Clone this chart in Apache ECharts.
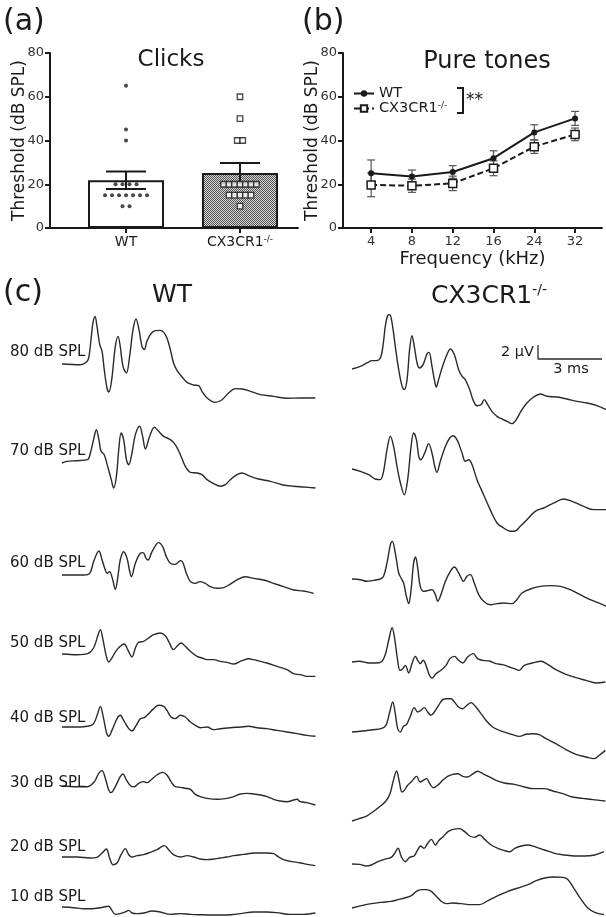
<!DOCTYPE html>
<html>
<head>
<meta charset="utf-8">
<script src="https://cdn.jsdelivr.net/npm/echarts@6/dist/echarts.min.js"></script>
<style>
html, body { margin: 0; padding: 0; background: #fff; }
#main { width: 606px; height: 917px; }
</style>
</head>
<body>
<div id="main"></div>
<script>
/******** (a) click thresholds ********/
var clickGroups = ['WT', 'CX3CR1'];
var clickMean = [21.8, 25.1];
var clickSem = [4.0, 4.6];
var clickWT = [65, 45, 40, 20, 20, 20, 20, 15, 15, 15, 15, 15, 15, 15, 10, 10];
var clickCX = [60, 50, 40, 40, 20, 20, 20, 20, 20, 20, 20, 15, 15, 15, 15, 15, 10];

/******** (b) pure tone thresholds ********/
var freqLabels = ['4', '8', '12', '16', '24', '32'];
var toneWT = [25.0, 23.5, 25.6, 31.9, 43.7, 50.1];
var toneWTErr = [6.1, 3.0, 2.9, 3.4, 3.5, 3.2];
var toneCX = [19.7, 19.3, 20.4, 27.3, 37.2, 42.8];
var toneCXErr = [5.4, 3.0, 3.3, 3.4, 3.1, 2.9];

/******** (c) ABR waveforms, [ms, µV] ********/
var levelNames = ['80 dB SPL', '70 dB SPL', '60 dB SPL', '50 dB SPL', '40 dB SPL', '30 dB SPL', '20 dB SPL', '10 dB SPL'];
var wt80 = [[0,0],[0.86,-0.1],[1.14,0.24],[1.25,0.86],[1.36,3.48],[1.45,5.86],[1.55,6.81],[1.64,5.38],[1.77,2.76],[1.88,1.81],[1.98,-0.81],[2.11,-3.43],[2.2,-4.0],[2.33,-2.24],[2.5,2.52],[2.63,3.95],[2.73,2.52],[2.86,-0.33],[3.02,-1.29],[3.17,1.1],[3.33,4.9],[3.47,6.43],[3.61,4.9],[3.75,2.52],[3.86,2.05],[3.98,3.24],[4.17,4.33],[4.38,4.76],[4.61,4.81],[4.77,4.52],[4.92,3.71],[5.08,2.05],[5.23,0.14],[5.39,-0.9],[5.63,-1.86],[5.86,-2.62],[6.17,-3.0],[6.41,-3.1],[6.56,-3.9],[6.8,-4.86],[7.19,-5.48],[7.5,-5.1],[7.81,-4.14],[8.13,-3.52],[8.44,-3.57],[8.83,-3.9],[9.3,-4.38],[9.92,-4.62],[10.55,-4.9],[11.17,-4.86],[11.88,-4.86]];
var wt70 = [[0,0],[0.23,0.24],[0.7,0.33],[1.2,0.48],[1.33,1.43],[1.48,3.33],[1.61,4.76],[1.73,3.33],[1.83,1.67],[1.98,1.19],[2.14,-0.48],[2.31,-2.38],[2.42,-3.57],[2.55,-1.9],[2.66,1.9],[2.77,4.29],[2.89,3.33],[3.02,0.48],[3.13,-0.24],[3.28,1.43],[3.44,4.05],[3.64,5.24],[3.78,3.81],[3.91,2.0],[4.11,3.81],[4.33,5.1],[4.53,4.52],[4.77,3.81],[5.08,3.33],[5.31,2.62],[5.55,1.19],[5.78,-0.48],[6.02,-1.33],[6.33,-1.43],[6.56,-1.67],[6.8,-2.38],[7.11,-2.95],[7.42,-3.33],[7.66,-3.1],[7.89,-2.38],[8.2,-1.67],[8.44,-1.43],[8.75,-1.81],[9.22,-2.29],[9.77,-2.62],[10.31,-3.1],[10.86,-3.33],[11.33,-3.43],[11.88,-3.57]];
var wt60 = [[0,0],[0.55,0],[1.02,0],[1.3,0.24],[1.48,1.9],[1.64,3.1],[1.73,3.43],[1.88,2.14],[2.03,0.71],[2.11,0.24],[2.23,0.48],[2.38,-0.71],[2.5,-2.05],[2.61,-0.48],[2.73,2.14],[2.89,3.33],[3.05,2.38],[3.16,0.71],[3.25,-0.24],[3.44,1.67],[3.67,3.1],[3.8,3.19],[3.94,2.38],[4.03,2.14],[4.22,3.33],[4.42,4.38],[4.53,4.62],[4.72,4.05],[4.89,2.62],[5.08,1.67],[5.31,1.52],[5.55,2.05],[5.67,1.76],[5.83,0.24],[6.02,-0.95],[6.25,-1.19],[6.48,-0.95],[6.72,-1.19],[6.95,-1.67],[7.27,-1.9],[7.58,-1.81],[7.89,-1.29],[8.2,-0.71],[8.59,-0.24],[8.98,-0.48],[9.45,-0.71],[9.92,-1.19],[10.39,-1.67],[10.86,-2.14],[11.33,-2.29],[11.8,-2.62]];
var wt50 = [[0,0],[0.7,-0.1],[1.2,0.05],[1.48,0.86],[1.67,2.52],[1.8,3.48],[1.92,2.05],[2.08,-0.33],[2.19,-1.14],[2.34,-0.57],[2.58,0.62],[2.92,1.43],[3.08,0.62],[3.28,-0.43],[3.44,0.86],[3.59,1.67],[3.83,1.81],[4.06,2.29],[4.3,2.76],[4.61,3.0],[4.84,2.62],[5.0,1.81],[5.23,0.62],[5.39,1.1],[5.58,1.57],[5.78,1.1],[6.02,0.38],[6.33,-0.33],[6.56,-0.57],[6.8,-0.81],[7.11,-0.81],[7.42,-1.05],[7.73,-1.19],[8.05,-1.43],[8.36,-1.05],[8.75,-0.67],[8.98,-0.81],[9.3,-1.05],[9.61,-1.29],[10.08,-1.76],[10.55,-2.24],[10.86,-2.81],[11.17,-2.95],[11.48,-3.19],[11.88,-3.19]];
var wt40 = [[0,0],[0.7,0],[1.2,0.1],[1.48,0.48],[1.67,1.9],[1.8,2.95],[1.92,1.67],[2.08,-0.71],[2.19,-1.33],[2.34,-0.48],[2.58,1.19],[2.73,1.67],[2.89,0.95],[3.13,-0.24],[3.28,-0.57],[3.48,0.24],[3.67,1.19],[3.86,1.33],[4.06,1.9],[4.3,2.62],[4.53,3.1],[4.77,2.95],[4.92,2.38],[5.11,1.43],[5.31,1.19],[5.55,1.67],[5.78,1.43],[6.02,0.71],[6.25,0.24],[6.48,-0.1],[6.8,0],[7.11,-0.38],[7.42,-0.24],[7.89,-0.1],[8.36,0],[8.75,0.1],[9.14,-0.1],[9.61,-0.24],[10.08,-0.48],[10.55,-0.71],[11.02,-0.95],[11.48,-1.19],[11.88,-1.33]];
var wt30 = [[0,0],[0.7,-0.1],[1.2,-0.1],[1.52,0.62],[1.72,1.81],[1.88,2.19],[2.03,1.1],[2.19,-0.57],[2.3,-0.95],[2.5,-0.1],[2.73,1.33],[2.86,1.71],[3.02,0.86],[3.23,0],[3.39,-0.1],[3.59,0.38],[3.8,0.62],[3.98,0.48],[4.17,0.86],[4.45,1.57],[4.73,1.95],[4.92,1.57],[5.11,0.62],[5.31,-0.1],[5.55,-0.19],[5.78,-0.33],[6.02,-0.48],[6.25,-1.19],[6.48,-1.52],[6.8,-1.76],[7.27,-1.9],[7.73,-1.76],[8.05,-1.52],[8.36,-1.14],[8.67,-1.05],[8.98,-1.14],[9.3,-1.29],[9.61,-1.52],[9.92,-1.9],[10.23,-2.14],[10.55,-2.24],[10.86,-2.0],[11.02,-1.9],[11.17,-2.24],[11.48,-2.38],[11.88,-2.71]];
var wt20 = [[0,0],[0.7,0],[1.33,-0.14],[1.64,-0.05],[1.88,0.57],[2.08,1.14],[2.23,-0.14],[2.39,-1.1],[2.58,-0.86],[2.77,0.33],[2.97,1.19],[3.13,0.33],[3.28,0],[3.52,0.19],[3.83,0.33],[4.14,0.67],[4.45,1.05],[4.8,1.62],[5.0,1.05],[5.23,0.33],[5.55,0],[5.86,0.19],[6.17,0],[6.48,-0.29],[6.8,-0.38],[7.11,-0.29],[7.42,-0.14],[7.73,0],[8.05,0.19],[8.36,0.33],[8.67,0.43],[8.98,0.57],[9.3,0.57],[9.61,0.57],[9.92,0.48],[10.16,0],[10.39,-0.38],[10.7,-0.62],[11.02,-0.76],[11.33,-0.95],[11.88,-1.24]];
var wt10 = [[0,0],[0.55,-0.1],[1.02,-0.24],[1.41,-0.24],[1.8,-0.1],[2.19,0.1],[2.34,-0.48],[2.5,-1.05],[2.73,-0.95],[2.97,-0.71],[3.13,-0.48],[3.28,-0.86],[3.52,-0.95],[3.83,-0.86],[4.22,-0.57],[4.61,-0.71],[5.08,-1.05],[5.55,-0.95],[6.02,-1.05],[6.48,-1.1],[7.11,-1.14],[7.73,-1.14],[8.36,-0.95],[8.98,-0.71],[9.61,-0.71],[10.08,-0.81],[10.7,-1.05],[11.33,-1.05],[11.88,-0.86]];
var cx80 = [[0,0],[0.39,0.38],[0.7,0.86],[0.94,1.19],[1.14,1.19],[1.33,1.57],[1.45,3.24],[1.56,6.1],[1.67,7.62],[1.77,7.76],[1.88,6.57],[2.03,3.24],[2.19,-0.1],[2.34,-2.38],[2.45,-2.95],[2.58,-1.52],[2.7,2.76],[2.81,4.76],[2.92,3.24],[3.05,0.86],[3.17,0.14],[3.33,0.62],[3.52,2.19],[3.61,2.38],[3.75,0.38],[3.86,-1.52],[3.95,-2.57],[4.06,-1.52],[4.22,0.14],[4.42,1.81],[4.61,2.86],[4.8,2.05],[5.0,-0.1],[5.16,-1.05],[5.31,-1.52],[5.52,-2.95],[5.67,-4.38],[5.86,-5.24],[6.05,-5.1],[6.2,-4.38],[6.36,-5.1],[6.56,-6.05],[6.8,-6.76],[7.03,-7.14],[7.27,-7.48],[7.5,-7.81],[7.7,-7.24],[7.92,-6.05],[8.2,-4.86],[8.52,-4.0],[8.83,-3.57],[9.14,-3.9],[9.61,-4.0],[10.08,-4.29],[10.55,-4.62],[11.02,-4.86],[11.48,-5.24],[11.92,-5.81]];
var cx70 = [[0,0],[0.39,-0.33],[0.78,-0.81],[1.09,-1.43],[1.33,-1.52],[1.48,-0.33],[1.64,2.76],[1.8,4.67],[1.95,3.24],[2.11,0.38],[2.27,-2.0],[2.45,-3.67],[2.61,-1.52],[2.77,3.24],[2.89,5.14],[3.02,4.19],[3.13,1.81],[3.23,1.33],[3.44,2.52],[3.59,3.62],[3.75,2.29],[3.88,0.38],[3.98,-0.48],[4.14,1.1],[4.38,3.24],[4.58,4.43],[4.73,4.76],[4.92,4.19],[5.16,2.29],[5.31,1.1],[5.47,1.33],[5.63,0.62],[5.86,-1.52],[6.17,-3.67],[6.48,-5.81],[6.8,-7.71],[7.11,-8.43],[7.42,-8.9],[7.61,-8.9],[7.89,-8.19],[8.2,-7.24],[8.59,-6.05],[8.98,-5.57],[9.45,-4.86],[9.92,-4.29],[10.31,-4.62],[10.86,-5.33],[11.33,-5.81],[11.92,-5.81]];
var cx60 = [[0,0],[0.39,-0.1],[0.7,-0.33],[1.02,-0.19],[1.33,0],[1.48,0.38],[1.64,2.29],[1.8,4.9],[1.89,5.38],[2.03,3.71],[2.19,0.86],[2.3,0.14],[2.42,-0.57],[2.55,-2.48],[2.66,-3.52],[2.77,-1.52],[2.89,2.29],[2.98,3.14],[3.09,1.33],[3.2,-1.05],[3.36,-1.76],[3.59,-1.62],[3.75,-1.52],[3.91,-2.24],[4.02,-3.19],[4.14,-2.48],[4.38,-0.33],[4.61,1.1],[4.8,1.71],[5.0,0.86],[5.23,-0.33],[5.39,0.38],[5.55,0.62],[5.73,-0.57],[5.94,-2.24],[6.17,-3.19],[6.48,-3.67],[6.8,-3.52],[7.11,-3.43],[7.5,-3.52],[7.73,-2.95],[7.97,-2.0],[8.36,-1.43],[8.83,-1.05],[9.3,-0.95],[9.77,-1.05],[10.23,-1.52],[10.7,-2.24],[11.17,-2.95],[11.64,-3.52],[11.92,-3.9]];
var cx50 = [[0,0],[0.34,0.1],[0.81,-0.14],[1.28,-0.1],[1.52,0.71],[1.72,3.1],[1.88,4.9],[2.0,3.33],[2.14,0.24],[2.25,-1.19],[2.38,-0.95],[2.5,-0.48],[2.66,-1.57],[2.81,-0.24],[2.97,0.81],[3.08,0.24],[3.2,-0.24],[3.34,0.24],[3.47,-0.48],[3.63,-1.9],[3.75,-2.29],[3.94,-1.67],[4.17,-1.19],[4.41,-0.48],[4.59,0.48],[4.8,0.81],[5.0,0.24],[5.19,-0.14],[5.42,0.71],[5.69,1.19],[5.89,0.48],[6.13,0.24],[6.44,0.14],[6.75,-0.24],[7.06,-0.38],[7.38,-0.71],[7.61,-0.95],[7.84,-1.19],[8.08,-0.48],[8.47,-0.14],[8.86,0.1],[9.17,-0.33],[9.56,-1.1],[10.03,-1.76],[10.5,-2.24],[10.97,-2.62],[11.44,-3.0],[11.88,-2.86]];
var cx40 = [[0,0],[0.5,0.14],[0.97,0.33],[1.36,0.48],[1.59,0.95],[1.75,2.62],[1.91,4.29],[2.03,2.62],[2.14,0.48],[2.27,0],[2.41,0.81],[2.56,1.1],[2.72,2.14],[2.92,3.48],[3.08,2.86],[3.23,3.1],[3.39,3.48],[3.55,2.86],[3.7,2.38],[3.86,2.86],[4.06,3.81],[4.25,4.62],[4.44,4.76],[4.64,4.76],[4.8,4.29],[5.0,3.57],[5.19,3.33],[5.38,3.81],[5.58,4.19],[5.81,3.57],[6.05,2.62],[6.28,1.67],[6.59,0.71],[6.91,0.24],[7.22,-0.1],[7.53,-0.38],[7.84,-0.62],[8.16,-0.33],[8.47,-0.24],[8.78,-0.38],[9.09,-0.95],[9.56,-1.67],[10.03,-2.52],[10.5,-3.19],[10.97,-3.57],[11.36,-3.81],[11.59,-3.33],[11.88,-2.62]];
var cx30 = [[0,0],[0.34,0.33],[0.66,0.67],[0.97,1.29],[1.28,2.0],[1.59,2.86],[1.78,3.9],[1.94,5.81],[2.09,7.14],[2.22,5.57],[2.34,4.14],[2.45,4.38],[2.61,5.1],[2.77,5.57],[3.03,6.38],[3.19,5.57],[3.34,5.81],[3.5,6.05],[3.63,5.43],[3.81,4.76],[4.02,5.1],[4.25,5.81],[4.48,6.38],[4.72,6.67],[4.95,6.76],[5.19,6.38],[5.42,6.29],[5.63,6.67],[5.89,7.1],[6.13,6.76],[6.44,6.29],[6.75,5.81],[7.14,5.43],[7.61,5.24],[8.08,4.86],[8.55,4.62],[9.02,4.62],[9.41,4.29],[9.88,3.9],[10.34,3.43],[10.81,3.24],[11.28,3.05],[11.88,2.86]];
var cx20 = [[0,0],[0.36,-0.05],[0.67,-0.29],[0.91,-0.14],[1.22,0.33],[1.53,0.67],[1.84,0.95],[2.0,1.52],[2.16,2.24],[2.31,1.05],[2.5,0.33],[2.7,0.95],[2.91,1.14],[3.06,1.9],[3.22,2.57],[3.38,2.24],[3.53,2.86],[3.72,3.52],[3.91,2.71],[4.06,3.33],[4.27,3.9],[4.5,4.62],[4.73,4.95],[5.05,5.05],[5.28,4.62],[5.52,4.0],[5.75,3.81],[5.98,4.14],[6.22,3.52],[6.53,2.71],[6.84,2.24],[7.16,1.9],[7.39,1.76],[7.63,2.24],[7.94,2.57],[8.25,2.71],[8.56,2.48],[9.03,2.0],[9.5,1.52],[9.97,1.29],[10.44,1.14],[10.91,1.14],[11.38,1.29],[11.81,1.76]];
var cx10 = [[0,0],[0.44,0.33],[0.91,0.62],[1.38,0.81],[1.84,0.95],[2.16,1.19],[2.47,1.43],[2.78,1.76],[3.02,2.38],[3.25,2.62],[3.48,2.62],[3.72,2.38],[3.95,1.67],[4.19,0.95],[4.42,0.62],[4.73,0.71],[5.13,0.62],[5.59,0.48],[5.98,0.48],[6.38,1.05],[6.84,1.76],[7.31,2.38],[7.78,2.86],[8.25,3.33],[8.64,3.9],[9.03,4.29],[9.5,4.43],[9.89,4.38],[10.13,4.05],[10.44,2.62],[10.75,1.19],[11.06,0],[11.38,-0.62],[11.81,-0.95]];
var scaleBar = [[0, 2], [0, 0], [3, 0]]; // 2 µV, 3 ms

var wtTraces = [wt80, wt70, wt60, wt50, wt40, wt30, wt20, wt10];
var cxTraces = [cx80, cx70, cx60, cx50, cx40, cx30, cx20, cx10];

/******** layout ********/
var FONT = 'DejaVu Sans';
var INK = '#1a1a1a';
var W = 606, H = 917;
var wtLeft = 62, cxLeft = 352;
var wtBase = [364, 463, 575, 654, 727, 786, 857, 907];
var cxBase = [369, 469, 579, 662, 732, 821, 864, 908];
var labelY = [352, 451, 563, 643, 718, 783, 847, 897];
var PX_MS = 21.33, PX_UV = 7;

var chart = echarts.init(document.getElementById('main'), null, { renderer: 'canvas' });

// checkered fill for the knockout bar
var pat = document.createElement('canvas');
pat.width = 2; pat.height = 2;
var pctx = pat.getContext('2d');
pctx.fillStyle = '#d4d4d4'; pctx.fillRect(0, 0, 2, 2);
pctx.fillStyle = '#555'; pctx.fillRect(0, 0, 1, 1); pctx.fillRect(1, 1, 1, 1);

function swarm(values, center, step) {
	var counts = {}, seen = {};
	values.forEach(function (v) { counts[v] = (counts[v] || 0) + 1; });
	return values.map(function (v) {
		seen[v] = seen[v] === undefined ? 0 : seen[v] + 1;
		return [center + (seen[v] - (counts[v] - 1) / 2) * step, v];
	});
}

function errBars(cap, lw, color) {
	return function (params, api) {
		var x = api.value(0);
		var hi = api.coord([x, api.value(2)]);
		var lo = api.coord([x, api.value(1)]);
		var st = { stroke: color, lineWidth: lw };
		return {
			type: 'group',
			children: [
				{ type: 'line', shape: { x1: hi[0], y1: hi[1], x2: lo[0], y2: lo[1] }, style: st },
				{ type: 'line', shape: { x1: hi[0] - cap / 2, y1: hi[1], x2: hi[0] + cap / 2, y2: hi[1] }, style: st },
				{ type: 'line', shape: { x1: lo[0] - cap / 2, y1: lo[1], x2: lo[0] + cap / 2, y2: lo[1] }, style: st }
			]
		};
	};
}

var supRich = { s: { fontSize: 9, verticalAlign: 'top', fontFamily: FONT, color: INK } };

function thresholdAxis(gi) {
	return {
		type: 'value', gridIndex: gi, min: 0, max: 80, interval: 20,
		name: 'Threshold (dB SPL)', nameLocation: 'middle', nameGap: 22, nameMoveOverlap: false,
		nameTextStyle: { fontSize: 17, color: INK },
		axisLine: { show: true, onZero: false, lineStyle: { color: INK, width: 2 } },
		axisTick: { show: true, length: 5, lineStyle: { width: 2, color: INK } },
		axisLabel: { fontSize: 13, color: '#333', margin: 6 },
		splitLine: { show: false }
	};
}

var grids = [], xAxes = [], yAxes = [], series = [];

// (a)
grids.push({ left: 50, top: 53, width: 248, height: 175 });
xAxes.push({
	type: 'value', gridIndex: 0, min: -0.667, max: 1.509,
	axisLine: { onZero: false, lineStyle: { color: INK, width: 2 } },
	axisTick: { customValues: [0, 1], length: 5, lineStyle: { width: 2, color: INK } },
	axisLabel: {
		customValues: [0, 1], fontSize: 14, color: INK, margin: 7,
		formatter: function (v) { return v === 0 ? clickGroups[0] : clickGroups[1] + '{s|-/-}'; },
		rich: { s: { fontSize: 9, verticalAlign: 'top', color: INK } }
	},
	splitLine: { show: false }
});
yAxes.push(thresholdAxis(0));
series.push({
	type: 'bar', xAxisIndex: 0, yAxisIndex: 0, barWidth: 76,
	itemStyle: { borderColor: INK, borderWidth: 2 },
	data: [
		{ value: [0, clickMean[0]], itemStyle: { color: '#fff' } },
		{ value: [1, clickMean[1]], itemStyle: { color: { image: pat, repeat: 'repeat' } } }
	]
});
series.push({
	type: 'custom', xAxisIndex: 0, yAxisIndex: 0, z: 3,
	renderItem: errBars(40, 2, INK),
	data: clickMean.map(function (m, i) { return [i, m - clickSem[i], m + clickSem[i]]; })
});
series.push({
	type: 'scatter', xAxisIndex: 0, yAxisIndex: 0, z: 4,
	symbol: 'circle', symbolSize: 4, itemStyle: { color: INK },
	data: swarm(clickWT, 0, 0.0614)
});
series.push({
	type: 'scatter', xAxisIndex: 0, yAxisIndex: 0, z: 4,
	symbol: 'rect', symbolSize: 5.5,
	itemStyle: { color: '#fff', borderColor: INK, borderWidth: 1.3 },
	data: swarm(clickCX, 1, 0.048)
});

// (b)
grids.push({ left: 343, top: 53, width: 259, height: 175 });
xAxes.push({
	type: 'value', gridIndex: 1, min: -0.69, max: 5.66,
	name: 'Frequency (kHz)', nameLocation: 'middle', nameGap: 22, nameMoveOverlap: false,
	nameTextStyle: { fontSize: 18, color: INK },
	axisLine: { onZero: false, lineStyle: { color: INK, width: 2 } },
	axisTick: { customValues: [0, 1, 2, 3, 4, 5], length: 5, lineStyle: { width: 2, color: INK } },
	axisLabel: {
		customValues: [0, 1, 2, 3, 4, 5], fontSize: 13, color: '#333', margin: 7,
		formatter: function (v) { return freqLabels[v]; }
	},
	splitLine: { show: false }
});
yAxes.push(thresholdAxis(1));
series.push({
	type: 'custom', xAxisIndex: 1, yAxisIndex: 1, z: 1,
	renderItem: errBars(8, 1.2, '#555'),
	data: toneWT.map(function (m, i) { return [i, m - toneWTErr[i], m + toneWTErr[i]]; })
});
series.push({
	type: 'custom', xAxisIndex: 1, yAxisIndex: 1, z: 1,
	renderItem: errBars(8, 1.2, '#555'),
	data: toneCX.map(function (m, i) { return [i, m - toneCXErr[i], m + toneCXErr[i]]; })
});
series.push({
	name: 'WT', type: 'line', xAxisIndex: 1, yAxisIndex: 1, z: 3,
	symbol: 'circle', symbolSize: 6,
	lineStyle: { color: INK, width: 2 }, itemStyle: { color: INK },
	data: toneWT.map(function (v, i) { return [i, v]; })
});
series.push({
	name: 'CX3CR1', type: 'line', xAxisIndex: 1, yAxisIndex: 1, z: 3,
	symbol: 'rect', symbolSize: 8,
	lineStyle: { color: INK, width: 2, type: [6, 3] },
	itemStyle: { color: '#fff', borderColor: INK, borderWidth: 1.5 },
	data: toneCX.map(function (v, i) { return [i, v]; })
});

// (c) one small grid per trace, kept inside the canvas
function addTrace(data, left, base) {
	var gi = grids.length;
	var lowUV = Math.min(10, (H - 1 - base) / PX_UV);
	var maxMs = Math.min(12, (W - left) / PX_MS);
	grids.push({ left: left, top: base - 10 * PX_UV, width: maxMs * PX_MS, height: (10 + lowUV) * PX_UV });
	xAxes.push({ type: 'value', gridIndex: gi, min: 0, max: maxMs, show: false });
	yAxes.push({ type: 'value', gridIndex: gi, min: -lowUV, max: 10, show: false });
	series.push({
		type: 'line', xAxisIndex: gi, yAxisIndex: gi, showSymbol: false, smooth: 0.35,
		clip: false, lineStyle: { color: '#2a2a2a', width: 1.4 }, data: data
	});
}
wtTraces.forEach(function (d, i) { addTrace(d, wtLeft, wtBase[i]); });
cxTraces.forEach(function (d, i) { addTrace(d, cxLeft, cxBase[i]); });

// scale bar
var sb = grids.length;
grids.push({ left: 538, top: 345, width: 3 * PX_MS, height: 2 * PX_UV });
xAxes.push({ type: 'value', gridIndex: sb, min: 0, max: 3, show: false });
yAxes.push({ type: 'value', gridIndex: sb, min: 0, max: 2, show: false });
series.push({
	type: 'line', xAxisIndex: sb, yAxisIndex: sb, showSymbol: false, clip: false,
	lineStyle: { color: '#2a2a2a', width: 1.3 }, data: scaleBar
});

function txt(x, y, text, size, align, extra) {
	var st = {
		x: x, y: y, text: text, fontSize: size, fontFamily: FONT, fill: INK,
		align: align || 'left', verticalAlign: 'middle'
	};
	if (extra) { for (var k in extra) st[k] = extra[k]; }
	return { type: 'text', style: st, z: 10 };
}

var graphics = [
	txt(3, 22, '(a)', 30),
	txt(171, 60, 'Clicks', 23, 'center'),
	txt(302, 22, '(b)', 30),
	txt(487, 62, 'Pure tones', 24, 'center'),
	{ type: 'polyline', shape: { points: [[457, 88], [463, 88], [463, 113], [457, 113]] }, style: { stroke: INK, lineWidth: 2, fill: null }, z: 10 },
	txt(466, 101, '**', 17),
	txt(3, 293, '(c)', 30),
	txt(172, 295, 'WT', 25, 'center'),
	txt(489, 296, 'CX3CR1{s|-/-}', 25, 'center', { rich: { s: { fontSize: 14, verticalAlign: 'top', fontFamily: FONT, fill: INK } } }),
	txt(534, 352, '2 µV', 14.5, 'right'),
	txt(571, 369, '3 ms', 14.5, 'center')
];
levelNames.forEach(function (n, i) { graphics.push(txt(10, labelY[i], n, 15)); });

chart.setOption({
	animation: false,
	textStyle: { fontFamily: FONT },
	grid: grids,
	xAxis: xAxes,
	yAxis: yAxes,
	legend: {
		data: ['WT', 'CX3CR1'], orient: 'vertical', left: 348, top: 81, itemGap: 0,
		itemWidth: 20, itemHeight: 8,
		textStyle: { fontSize: 14.5, color: INK, lineHeight: 14, rich: supRich },
		formatter: function (n) { return n === 'CX3CR1' ? n + '{s|-/-}' : n; }
	},
	graphic: graphics,
	series: series
});
</script>
</body>
</html>
